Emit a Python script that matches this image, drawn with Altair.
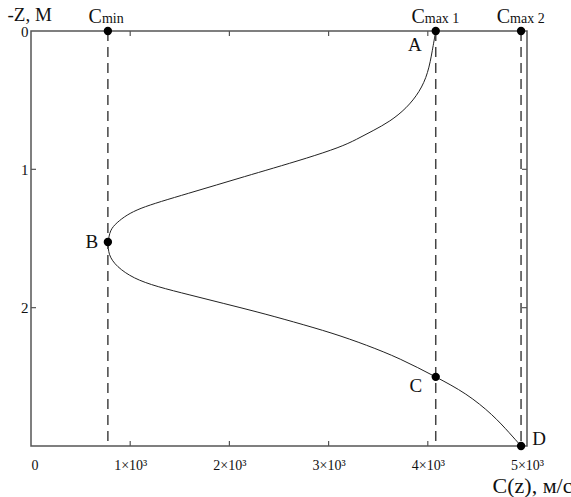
import altair as alt
import pandas as pd

# ---- data ----
curve_c = [4080, 4047, 4003, 3919, 3785, 3617, 3449, 3282, 3113, 2778, 2435, 2150,
           1871, 1589, 1302, 1098, 964, 863, 796, 776, 779, 863, 1031, 1266, 1602,
           1938, 2274, 2640, 3046, 3382, 3718, 4080, 4390, 4658, 4826, 4940]
curve_z = [0, 0.137, 0.306, 0.439, 0.559, 0.655, 0.720, 0.784, 0.841, 0.920, 0.993, 1.053,
           1.113, 1.173, 1.234, 1.282, 1.330, 1.386, 1.439, 1.525, 1.619, 1.704, 1.788, 1.848, 1.908,
           1.969, 2.029, 2.101, 2.185, 2.270, 2.366, 2.5, 2.619, 2.776, 2.908, 3.0]

point_c = [775, 4080, 4940, 775, 4080, 4940]
point_z = [0, 0, 0, 1.525, 2.5, 3.0]

letters = ["A", "B", "C", "D"]
letter_c = [4080, 775, 4080, 4940]
letter_z = [0, 1.525, 2.5, 3.0]

guide_c = [775, 4080, 4940]
guide_sub = ["min", "max 1", "max 2"]

x_ticks = [0, 1000, 2000, 3000, 4000, 5000]
x_inner = [1000, 2000, 3000, 4000]
y_ticks = [0, 1, 2]
y_inner = [1, 2]
z_top, z_bottom = 0, 3

W, H = 496, 415
FONT = "Liberation Serif"
INK = "#111111"

curve_df = pd.DataFrame({"c": curve_c, "z": curve_z, "i": list(range(len(curve_c)))})
point_df = pd.DataFrame({"c": point_c, "z": point_z})
letter_df = pd.DataFrame({"t": letters, "c": letter_c, "z": letter_z})
guide_df = pd.DataFrame({"c": guide_c, "sub": guide_sub,
                         "z0": [z_top] * len(guide_c), "z1": [z_bottom] * len(guide_c)})
xt_df = pd.DataFrame({"v": x_inner})
yt_df = pd.DataFrame({"v": y_inner})

xs = alt.Scale(domain=[0, 5000], nice=False, zero=False)
ys = alt.Scale(domain=[0, 3], reverse=True, nice=False, zero=False)

x_axis = alt.Axis(
    values=x_ticks,
    labelExpr="datum.value == 0 ? '0' : format(datum.value / 1000, 'd') + '×10³'",
    tickSize=0, domain=False, grid=False, labelPadding=12,
    labelFont=FONT, labelFontSize=14, labelColor=INK,
    labelFlush=False, labelOverlap=False, labelBound=False,
    labelAlign={"condition": {"test": "datum.value == 0", "value": "left"}, "value": "center"},
    title="C(z), м/с", titleX=541, titleY=46, titleAlign="right",
    titleBaseline="alphabetic", titleFont=FONT, titleFontSize=22,
    titleFontWeight="normal", titleColor=INK,
)
y_axis = alt.Axis(
    values=y_ticks, tickSize=0, domain=False, grid=False, labelPadding=3,
    labelFont=FONT, labelFontSize=15, labelColor=INK,
    title="-Z, M", titleAngle=0, titleX=-24, titleY=-11, titleAlign="left",
    titleBaseline="alphabetic", titleFont=FONT, titleFontSize=19,
    titleFontWeight="normal", titleColor=INK,
)


def X(field):
    return alt.X(field, scale=xs, axis=x_axis)


def Y(field):
    return alt.Y(field, scale=ys, axis=y_axis)


guides = alt.Chart(guide_df).mark_rule(
    color="#444444", strokeWidth=1.5, strokeDash=[10, 6]
).encode(x=X("c:Q"), y=Y("z0:Q"), y2="z1:Q")

curve = alt.Chart(curve_df).mark_line(
    interpolate="basis", color="#222222", strokeWidth=1
).encode(x=X("c:Q"), y=Y("z:Q"), order="i:Q")

points = alt.Chart(point_df).mark_circle(size=70, color="black", opacity=1).encode(
    x=X("c:Q"), y=Y("z:Q"))

letter_offsets = {"A": (-21, 14), "B": (-16, 0), "C": (-20, 9), "D": (18, -7)}
letter_layers = []
for t, (dx, dy) in letter_offsets.items():
    letter_layers.append(
        alt.Chart(letter_df).transform_filter(alt.datum.t == t).mark_text(
            font=FONT, fontSize=19, color=INK, dx=dx, dy=dy, baseline="middle", align="center"
        ).encode(x=X("c:Q"), y=Y("z:Q"), text="t:N")
    )


def top_label(test, dx_c):
    big = alt.Chart(guide_df).transform_filter(test).mark_text(
        font=FONT, fontSize=20, color=INK, align="right", baseline="alphabetic",
        dx=dx_c, dy=-8
    ).encode(x=X("c:Q"), y=Y("z0:Q"), text=alt.value("C"))
    small = alt.Chart(guide_df).transform_filter(test).mark_text(
        font=FONT, fontSize=14, color=INK, align="left", baseline="alphabetic",
        dx=dx_c, dy=-8
    ).encode(x=X("c:Q"), y=Y("z0:Q"), text="sub:N")
    return [big, small]


top_labels = top_label(alt.datum.sub == "min", -6) + top_label(alt.datum.sub != "min", -11)

tick_style = dict(color="#555555", strokeWidth=1.2)
ticks_bottom = alt.Chart(xt_df).mark_rule(**tick_style).encode(
    x=X("v:Q"), y=alt.value(H), y2=alt.value(H - 5))
ticks_top = alt.Chart(xt_df).mark_rule(**tick_style).encode(
    x=X("v:Q"), y=alt.value(0), y2=alt.value(5))
ticks_left = alt.Chart(yt_df).mark_rule(**tick_style).encode(
    y=Y("v:Q"), x=alt.value(0), x2=alt.value(5))
ticks_right = alt.Chart(yt_df).mark_rule(**tick_style).encode(
    y=Y("v:Q"), x=alt.value(W), x2=alt.value(W - 5))

chart = alt.layer(
    curve, guides, ticks_bottom, ticks_top, ticks_left, ticks_right,
    points, *letter_layers, *top_labels,
).properties(
    width=W, height=H,
    padding={"left": 31, "top": 31, "right": 44, "bottom": 51},
    autosize=alt.AutoSizeParams(type="none"),
    background="white",
).configure_view(
    stroke="#555555", strokeWidth=1.5
)

chart.save("out.html", embed_options={"renderer": "svg", "actions": False})
